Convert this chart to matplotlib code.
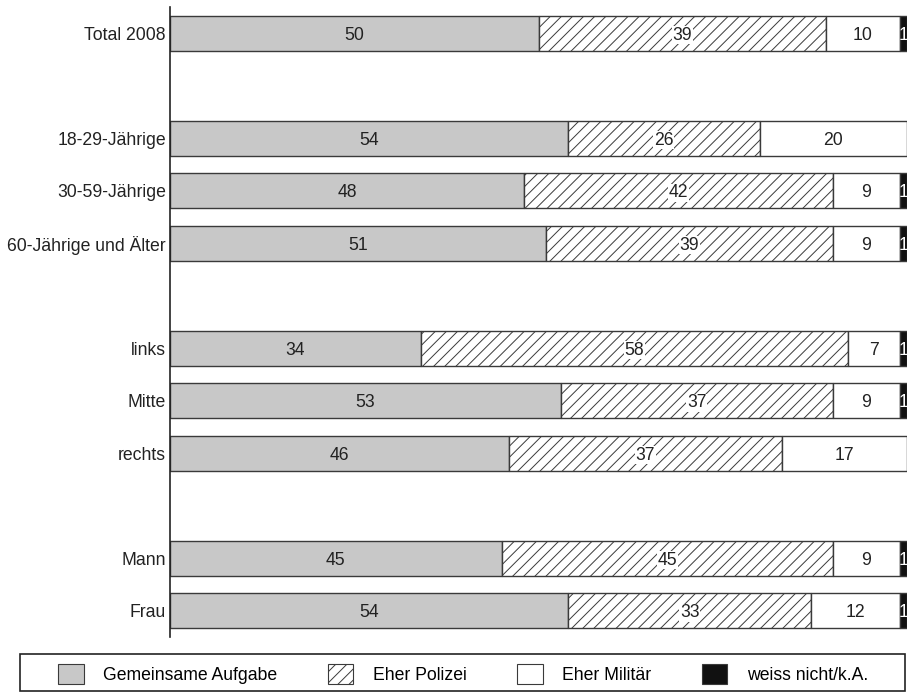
import numpy as np
import matplotlib.pyplot as plt
from matplotlib.patches import Patch, Rectangle

plt.rcParams['font.family'] = ['Liberation Sans', 'DejaVu Sans']
plt.rcParams['hatch.linewidth'] = 0.7
plt.rcParams['hatch.color'] = '#333333'

# categories (None = empty row used as a spacer)
categories = ["Total 2008", None, "18-29-Jährige", "30-59-Jährige", "60-Jährige und Älter",
              None, "links", "Mitte", "rechts", None, "Mann", "Frau"]

gemeinsam = [50, None, 54, 48, 51, None, 34, 53, 46, None, 45, 54]
polizei = [39, None, 26, 42, 39, None, 58, 37, 37, None, 45, 33]
militaer = [10, None, 20, 9, 9, None, 7, 9, 17, None, 9, 12]
weiss_nicht = [1, None, 0, 1, 1, None, 1, 1, 0, None, 1, 1]

series_names = ["Gemeinsame Aufgabe", "Eher Polizei", "Eher Militär", "weiss nicht/k.A."]
series = [gemeinsam, polizei, militaer, weiss_nicht]
fills = ["#c8c8c8", "white", "white", "#111111"]
hatches = [None, "///", None, None]
text_colors = ["#222222", "#222222", "#222222", "white"]

FS = 12.7
edge = "#3a3a3a"

fig = plt.figure(figsize=(9.09, 6.95), dpi=100)
ax = fig.add_axes([170 / 909, 1 - 637 / 695, 737 / 909, 630 / 695])

for i, cat in enumerate(categories):
    if cat is None:
        continue
    left = 0
    for s, vals in enumerate(series):
        v = vals[i]
        if v == 0:
            continue
        ax.barh(i, v, left=left, height=0.67, color=fills[s], edgecolor=edge,
                linewidth=1.0, hatch=hatches[s])
        bbox = None
        if hatches[s]:
            bbox = dict(facecolor="white", edgecolor="none", pad=0.5)
        ax.text(left + v / 2, i, str(v), ha="center", va="center_baseline",
                fontsize=FS, color=text_colors[s], bbox=bbox)
        left += v

ax.set_xlim(0, 100)
ax.set_ylim(11.5, -0.5)
rows = [i for i, c in enumerate(categories) if c is not None]
ax.set_yticks(rows)
ax.set_yticklabels([categories[i] for i in rows], fontsize=FS, color="#222222")
ax.tick_params(axis="y", length=0, pad=3)
ax.set_xticks([])
for side in ["top", "right", "bottom"]:
    ax.spines[side].set_visible(False)
ax.spines["left"].set_color("#222222")
ax.spines["left"].set_linewidth(1.2)

# legend: entries spread evenly, frame drawn separately
handles = [Patch(facecolor=fills[s], edgecolor=edge, hatch=hatches[s], linewidth=0.8)
           for s in range(4)]
leg = fig.legend(handles, series_names, loc="center left",
                 bbox_to_anchor=(58 / 909, 1 - 690 / 695, 810 / 909, 32 / 695),
                 mode="expand", ncol=4, fontsize=FS, frameon=False,
                 handlelength=1.45, handleheight=1.45, handletextpad=1.1,
                 borderpad=0, borderaxespad=0)
fig.patches.append(Rectangle((20 / 909, 1 - 691 / 695), 885 / 909, 37 / 695,
                             transform=fig.transFigure, facecolor="none",
                             edgecolor="#222222", linewidth=1.2))

fig.savefig("out.png", dpi=100)
